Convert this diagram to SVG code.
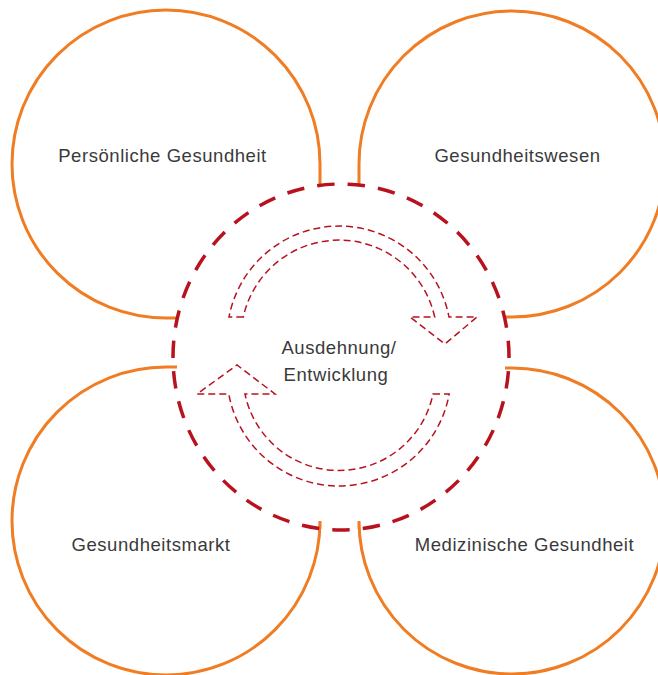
<svg xmlns="http://www.w3.org/2000/svg" width="658" height="675" viewBox="0 0 658 675">
<style>
.orb{fill:none;stroke:#F07D23;stroke-width:3;}
.lbl{font-family:"Liberation Sans",Arial,sans-serif;font-size:18.5px;letter-spacing:0.55px;fill:#3a3a3a;text-anchor:middle;}
.ring{fill:none;stroke:#B8121F;stroke-width:3.5;stroke-dasharray:17.5 13.1;stroke-dashoffset:16.4;}
.arr{fill:none;stroke:#B8121F;stroke-width:1.5;stroke-dasharray:7 4;stroke-linejoin:miter;}
</style>
<rect width="658" height="675" fill="#ffffff"/>
<g id="persoenliche-gesundheit">
<path class="orb" d="M320,185 L320,164 A154,154 0 1 0 166,318 L177,318"/>
<text class="lbl" x="162.5" y="162">Persönliche Gesundheit</text>
</g>
<g id="gesundheitswesen">
<path class="orb" d="M359,185 L359,164 A153,153 0 1 1 512,317 L505,317"/>
<text class="lbl" x="517.5" y="162">Gesundheitswesen</text>
</g>
<g id="gesundheitsmarkt">
<path class="orb" d="M177,367 L166,367 A154,154 0 1 0 320,521 L320,529"/>
<text class="lbl" x="151" y="551">Gesundheitsmarkt</text>
</g>
<g id="medizinische-gesundheit">
<path class="orb" d="M505,368 L512,368 A153,153 0 1 1 359,521 L359,529"/>
<text class="lbl" x="524.5" y="551">Medizinische Gesundheit</text>
</g>
<g id="ausdehnung">
<ellipse class="ring" cx="341" cy="357" rx="168" ry="173"/>
<text class="lbl" x="339" y="354">Ausdehnung/</text>
<text class="lbl" x="336" y="381">Entwicklung</text>
</g>
<g id="connectors">
<path class="arr" d="M243.3,317 L229,317 A112,112 0 0 1 449,317 L477,317 L445,344 L410,317 L434.7,317 A98,98 0 0 0 243.3,317 Z"/>
<path class="arr" d="M433,394 L449.2,394 A112,112 0 0 1 228.8,394 L197,394 L237,365 L275,394 L245,394 A96,96 0 0 0 433,394 Z"/>
</g>
</svg>
